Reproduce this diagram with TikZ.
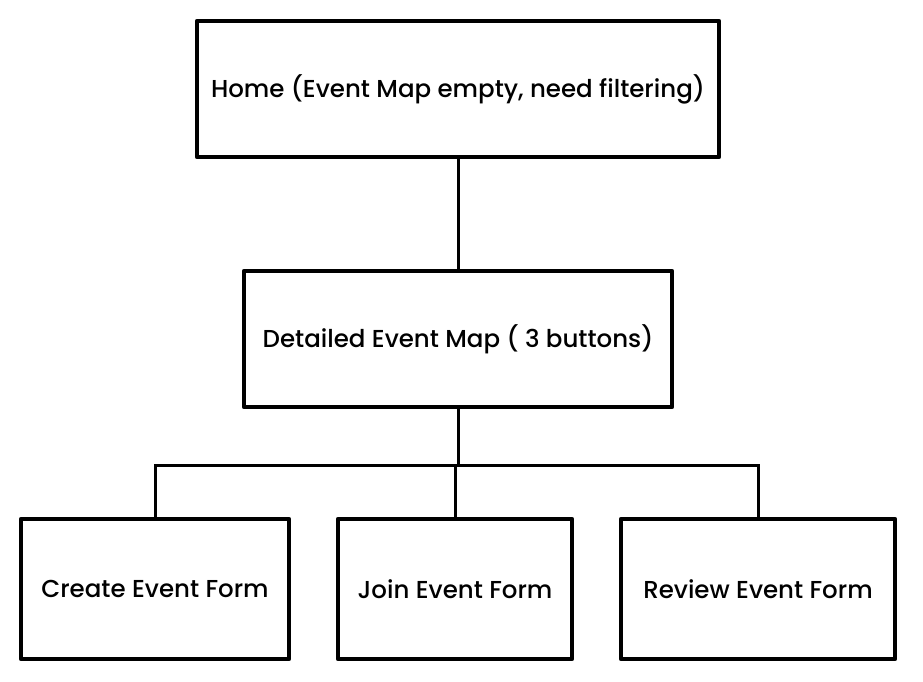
\documentclass[tikz,border=0pt]{standalone}
\usepackage{fontspec}
\setmainfont{Poppins}[UprightFont=* Medium]
\begin{document}
\begin{tikzpicture}[x=1pt,y=-1pt,
  box/.style={draw=black,line width=4.5pt,fill=white,inner sep=0pt,font=\fontsize{24.5}{29}\selectfont,line join=round},
  conn/.style={draw=black,line width=3pt}]
\useasboundingbox (0,0) rectangle (923,682);
\node[box,minimum width=522pt,minimum height=136pt] (home) at (458,89) {Home (Event Map empty, need filtering)};
\node[box,minimum width=428pt,minimum height=136pt] (det) at (458,339) {Detailed Event Map ( 3 buttons)};
\node[box,minimum width=268pt,minimum height=140pt] (create) at (155,589) {Create Event Form};
\node[box,minimum width=234pt,minimum height=140pt] (join) at (455,589) {Join Event Form};
\node[box,minimum width=274pt,minimum height=140pt] (review) at (758,589) {Review Event Form};
\coordinate (hub) at (458,465);
\draw[conn] (home.south) -- (det.north);
\draw[conn] (det.south) -- (hub);
\draw[conn] (create.north) |- (hub) -| (review.north);
\draw[conn] (join.north) -- (join.north |- hub);
\end{tikzpicture}
\end{document}
